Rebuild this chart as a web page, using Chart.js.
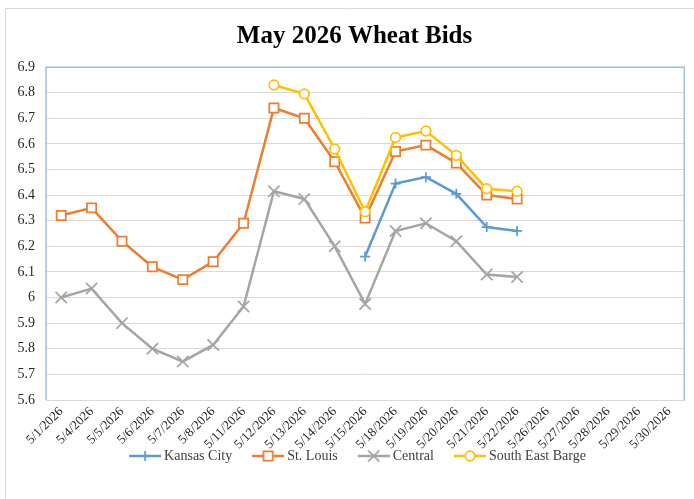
<!DOCTYPE html>
<html>
<head>
<meta charset="utf-8">
<script src="https://cdn.jsdelivr.net/npm/chart.js@4/dist/chart.umd.min.js"></script>
<style>
html,body{margin:0;padding:0;background:#fff;}
#wrap{width:694px;height:499px;position:relative;}
</style>
</head>
<body>
<div id="wrap"><canvas id="c" width="694" height="499"></canvas></div>
<script>
const categories = ["5/1/2026","5/4/2026","5/5/2026","5/6/2026","5/7/2026","5/8/2026","5/11/2026","5/12/2026","5/13/2026","5/14/2026","5/15/2026","5/18/2026","5/19/2026","5/20/2026","5/21/2026","5/22/2026","5/26/2026","5/27/2026","5/28/2026","5/29/2026","5/30/2026"];
const kansasCity = [null,null,null,null,null,null,null,null,null,null,6.16,6.445,6.47,6.405,6.275,6.26,null,null,null,null,null];
const stLouis = [6.32,6.35,6.22,6.12,6.07,6.14,6.29,6.74,6.70,6.53,6.31,6.57,6.595,6.525,6.40,6.385,null,null,null,null,null];
const central = [6.00,6.035,5.90,5.80,5.75,5.815,5.965,6.415,6.385,6.20,5.975,6.26,6.29,6.22,6.09,6.08,null,null,null,null,null];
const southEastBarge = [null,null,null,null,null,null,null,6.83,6.795,6.58,6.335,6.625,6.65,6.555,6.425,6.415,null,null,null,null,null];
const seriesNames = ["Kansas City","St. Louis","Central","South East Barge"];
const yMin = 5.6, yMax = 6.9, yStep = 0.1;

const colors = ["#5B9BD5","#ED7D31","#A5A5A5","#FFC000"];
const styles = ["cross","rect","crossRot","circle"];
const radii = [5,6.5,8,4.8];
const seriesData = [kansasCity, stLouis, central, southEastBarge];
const SERIF = "'Liberation Serif','Times New Roman',serif";

function legendIcon(i){
  const cv = document.createElement('canvas');
  cv.width = 56; cv.height = 16;
  const ctx = cv.getContext('2d');
  ctx.strokeStyle = colors[i];
  ctx.fillStyle = '#fff';
  ctx.lineWidth = 2.5;
  ctx.beginPath(); ctx.moveTo(24,8); ctx.lineTo(56,8); ctx.stroke();
  ctx.lineWidth = 1.75;
  Chart.helpers.drawPoint(ctx, {pointStyle: styles[i], radius: radii[i], rotation: 0, borderWidth: 1.75}, 40, 8);
  return cv;
}

const frame = {
  id: 'frame',
  afterLayout(chart){
    if (chart.legend) { chart.legend.left += 5; chart.legend.right += 5; }
    if (chart.titleBlock) { chart.titleBlock.left += 12; chart.titleBlock.right += 12; }
  },
  beforeDraw(chart){
    const ctx = chart.ctx;
    ctx.save();
    ctx.fillStyle = '#fff';
    ctx.fillRect(0,0,chart.width,chart.height);
    ctx.strokeStyle = '#D9D9D9';
    ctx.lineWidth = 1;
    ctx.beginPath();
    ctx.moveTo(5.5, chart.height); ctx.lineTo(5.5, 8.5); ctx.lineTo(chart.width, 8.5);
    ctx.stroke();
    ctx.restore();
  },
  afterDatasetsDraw(chart){
    const a = chart.chartArea, ctx = chart.ctx;
    ctx.save();
    ctx.strokeStyle = '#8FB4E0';
    ctx.lineWidth = 1.25;
    ctx.beginPath();
    ctx.moveTo(a.left, a.bottom); ctx.lineTo(a.left, a.top); ctx.lineTo(a.right, a.top); ctx.lineTo(a.right, a.bottom);
    ctx.stroke();
    ctx.restore();
  }
};

const datasets = seriesNames.map((name, i) => ({
  label: name,
  data: seriesData[i],
  borderColor: colors[i],
  backgroundColor: '#fff',
  borderWidth: 2.5,
  pointStyle: styles[i],
  pointRadius: radii[i],
  pointHoverRadius: radii[i],
  pointBorderColor: colors[i],
  pointBackgroundColor: '#fff',
  pointBorderWidth: 1.75,
  tension: 0,
  spanGaps: false,
  order: 3 - i
}));

new Chart(document.getElementById('c'), {
  type: 'line',
  data: { labels: categories, datasets },
  plugins: [frame],
  options: {
    responsive: false,
    animation: false,
    layout: { padding: { left: 0, right: 9, top: 0, bottom: 26 } },
    plugins: {
      tooltip: { enabled: false },
      title: {
        display: true,
        text: 'May 2026 Wheat Bids',
        color: '#000',
        font: { family: SERIF, size: 25, weight: 'bold' },
        padding: { top: 22, bottom: 15 }
      },
      legend: {
        position: 'bottom',
        labels: {
          color: '#404040',
          font: { family: SERIF, size: 14 },
          usePointStyle: true,
          pointStyleWidth: 48,
          padding: 0,
          generateLabels(chart){
            return chart.data.datasets.map((ds, i) => ({
              text: ds.label,
              pointStyle: legendIcon(i),
              fillStyle: '#fff',
              strokeStyle: colors[i],
              lineWidth: 0,
              hidden: false,
              datasetIndex: i,
              fontColor: '#404040'
            }));
          }
        }
      }
    },
    scales: {
      x: {
        offset: true,
        grid: { display: false, drawTicks: false },
        border: { display: true, color: '#D9D9D9', width: 1 },
        ticks: {
          color: '#262626',
          font: { family: SERIF, size: 13 },
          minRotation: 45, maxRotation: 45,
          padding: 4,
          autoSkip: false
        },
        afterFit(scale){ scale.height = 49; }
      },
      y: {
        min: yMin, max: yMax,
        grid: { color: '#D9D9D9', lineWidth: 1, drawTicks: false },
        border: { display: false },
        ticks: {
          stepSize: yStep,
          color: '#262626',
          font: { family: SERIF, size: 14 },
          padding: 11,
          callback: v => String(Math.round(v * 10) / 10)
        },
        afterFit(scale){ scale.width = 46; }
      }
    }
  }
});
</script>
</body>
</html>
